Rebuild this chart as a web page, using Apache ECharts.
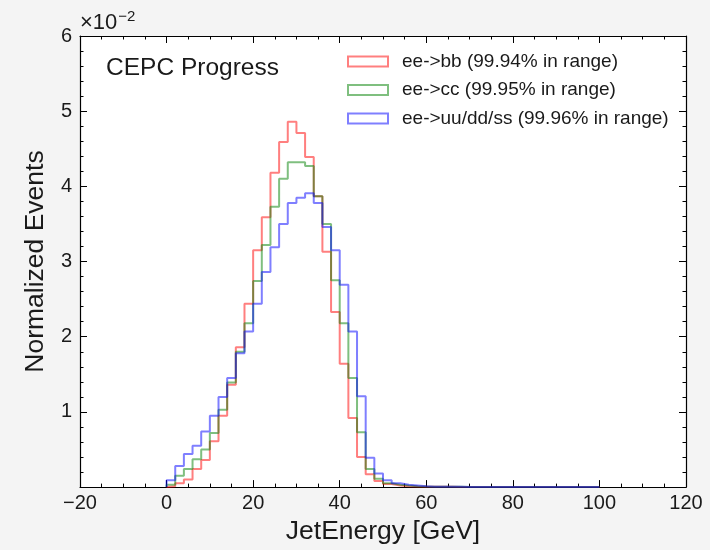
<!DOCTYPE html>
<html>
<head>
<meta charset="utf-8">
<script src="https://cdn.jsdelivr.net/npm/echarts@6/dist/echarts.min.js"></script>
<style>
html,body{margin:0;padding:0;background:#f4f4f4;overflow:hidden;}
#c{width:710px;height:550px;}
</style>
</head>
<body>
<div id="c"></div>
<script>
// Bin left edges (GeV), bin width 2
const binEdges = [0,2,4,6,8,10,12,14,16,18,20,22,24,26,28,30,32,34,36,38,40,42,44,46,48,50,52,54,56,58,60,62,64,66,68,70,72,74,76,78,80,82,84,86,88,90,92,94,96,98];
const lastEdge = 100;
// Normalized events, in units of 1e-2
const eeBB = [0.01,0.05,0.10,0.24,0.36,0.61,0.95,1.36,1.86,2.44,3.15,3.59,4.18,4.59,4.86,4.71,4.39,3.87,3.13,2.33,1.64,0.92,0.40,0.17,0.08,0.04,0.02,0.012,0.008,0.005,0.004,0.003,0.003,0.002,0.002,0.002,0.002,0.002,0.002,0.002,0.002,0.002,0.002,0.002,0.002,0.002,0.002,0.002,0.002,0.002];
const eeCC = [0.03,0.15,0.24,0.37,0.50,0.72,1.03,1.39,1.80,2.18,2.74,3.22,3.73,4.10,4.32,4.32,4.27,3.87,3.50,2.75,2.18,1.45,0.73,0.24,0.11,0.05,0.03,0.02,0.012,0.008,0.005,0.004,0.003,0.003,0.002,0.002,0.002,0.002,0.002,0.002,0.002,0.002,0.002,0.002,0.002,0.002,0.002,0.002,0.002,0.002];
const eeUDS = [0.09,0.28,0.44,0.55,0.74,0.95,1.20,1.45,1.78,2.07,2.44,2.86,3.19,3.50,3.78,3.85,3.91,3.78,3.46,3.15,2.69,2.07,1.21,0.39,0.18,0.09,0.05,0.03,0.02,0.01,0.006,0.004,0.003,0.003,0.002,0.002,0.002,0.002,0.002,0.002,0.002,0.002,0.002,0.002,0.002,0.002,0.002,0.002,0.002,0.002];
const seriesNames = ['ee->bb (99.94% in range)','ee->cc (99.95% in range)','ee->uu/dd/ss (99.96% in range)'];
const seriesColors = ['rgba(255,0,0,0.5)','rgba(0,128,0,0.5)','rgba(0,0,255,0.5)'];
const xTicks = {min:-20, max:120, interval:20};
const yTicks = {min:0, max:6, interval:1};

function stepData(vals){
  const d = [[binEdges[0],0]];
  for(let i=0;i<vals.length;i++) d.push([binEdges[i], vals[i]]);
  d.push([lastEdge, vals[vals.length-1]]);
  d.push([lastEdge, 0]);
  return d;
}
const FONT = 'Liberation Sans';
const TXT = '#1a1a1a';
const chart = echarts.init(document.getElementById('c'), null, {renderer:'canvas'});
const commonX = {
  type:'value', min:xTicks.min, max:xTicks.max, interval:xTicks.interval,
  axisLine:{show:true, onZero:false, lineStyle:{color:'#000', width:1.2}},
  axisTick:{show:true, inside:true, length:7, lineStyle:{color:'#000', width:1}},
  minorTick:{show:true, splitNumber:4, length:3.5, lineStyle:{color:'#000', width:1}},
  splitLine:{show:false}
};
const commonY = {
  type:'value', min:yTicks.min, max:yTicks.max, interval:yTicks.interval,
  axisLine:{show:true, onZero:false, lineStyle:{color:'#000', width:1.2}},
  axisTick:{show:true, inside:true, length:7, lineStyle:{color:'#000', width:1}},
  minorTick:{show:true, splitNumber:5, length:3.5, lineStyle:{color:'#000', width:1}},
  splitLine:{show:false}
};
const option = {
  backgroundColor:'#f4f4f4',
  animation:false,
  grid:{left:80, right:24, top:36, bottom:60, show:true, backgroundColor:'#ffffff', borderWidth:0},
  xAxis:[
    Object.assign({}, commonX, {position:'bottom',
      name:'JetEnergy [GeV]', nameLocation:'middle', nameGap:29,
      nameTextStyle:{fontFamily:FONT, fontSize:26.5, color:TXT},
      axisLabel:{show:true, margin:6, fontFamily:FONT, fontSize:20, color:TXT,
        formatter:v=> v<0 ? '\u2212'+Math.abs(v) : String(v)}}),
    Object.assign({}, commonX, {position:'top', axisLabel:{show:false}})
  ],
  yAxis:[
    Object.assign({}, commonY, {position:'left',
      name:'Normalized Events', nameLocation:'middle', nameGap:31,
      nameTextStyle:{fontFamily:FONT, fontSize:26.5, color:TXT},
      axisLabel:{show:true, margin:8, fontFamily:FONT, fontSize:20, color:TXT,
        formatter:v=> v===0 ? '' : String(v)}}),
    Object.assign({}, commonY, {position:'right', axisLabel:{show:false}})
  ],
  legend:{
    orient:'vertical', left:347, top:52, padding:0, itemWidth:40, itemHeight:10, itemGap:9.5,
    icon:'rect',
    textStyle:{fontFamily:FONT, fontSize:19, color:TXT, lineHeight:19, padding:[0,0,0,9]},
    data: seriesNames.map((n,i)=>({name:n, itemStyle:{color:'rgba(255,255,255,0)', borderColor:seriesColors[i], borderWidth:2}}))
  },
  graphic:[
    {type:'text', left:106, top:56, style:{text:'CEPC Progress', font:'24.5px "Liberation Sans"', fill:TXT}},
    {type:'text', left:80, top:9, style:{
      text:'\u00d710{s|\u22122}', font:'22px "Liberation Sans"', fill:TXT,
      rich:{s:{fontSize:15, fontFamily:FONT, verticalAlign:'top', padding:[0,0,12,1]}}}}
  ],
  series: [eeBB, eeCC, eeUDS].map((vals,i)=>({
    name:seriesNames[i], type:'line', step:'end', symbol:'none',
    xAxisIndex:0, yAxisIndex:0,
    lineStyle:{color:seriesColors[i], width:2},
    itemStyle:{color:'rgba(255,255,255,0)', borderColor:seriesColors[i], borderWidth:2},
    data:stepData(vals)
  }))
};
chart.setOption(option);
</script>
</body>
</html>
